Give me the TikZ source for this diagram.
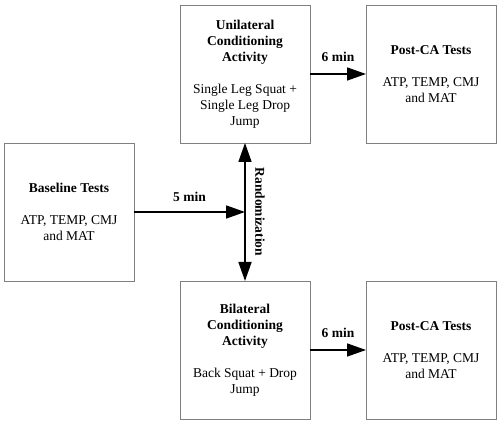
\documentclass[tikz,border=0pt]{standalone}
\usepackage{fontspec}
\setmainfont{Liberation Serif}
\usetikzlibrary{positioning, arrows.meta}

\begin{document}
\begin{tikzpicture}[font=\fontsize{13.5}{16}\selectfont,
	stage/.style={draw=gray, line width=0.9pt, minimum width=130pt, minimum height=138pt,
		align=center, inner sep=2pt, outer sep=0pt},
	flow/.style={line width=1.6pt, -{Triangle[length=19pt,width=13pt]}},
	tag/.style={font=\fontsize{13.5}{16}\selectfont\bfseries}]
	\useasboundingbox (0,0) rectangle (498pt,425pt);
	% stages
	\node[stage] (base) at (69pt,213pt) {\textbf{Baseline Tests}\\[16pt]ATP, TEMP, CMJ\\and MAT};
	\node[stage, above right=0pt and 46pt of base] (uni)
	{\textbf{Unilateral}\\\textbf{Conditioning}\\\textbf{Activity}\\[16pt]Single Leg Squat +\\Single Leg Drop\\Jump};
	\node[stage, below right=0pt and 46pt of base] (bil)
	{\textbf{Bilateral}\\\textbf{Conditioning}\\\textbf{Activity}\\[16pt]Back Squat + Drop\\Jump};
	\node[stage, right=56pt of uni] (postU) {\textbf{Post-CA Tests}\\[16pt]ATP, TEMP, CMJ\\and MAT};
	\node[stage, right=56pt of bil] (postB) {\textbf{Post-CA Tests}\\[16pt]ATP, TEMP, CMJ\\and MAT};
	% connectors
	\coordinate (split) at (base.east -| uni.south);
	\draw[flow, {Triangle[length=19pt,width=13pt]}-{Triangle[length=19pt,width=13pt]}] (uni) -- (bil)
	node[midway, right=6pt, rotate=-90, anchor=south, tag] {Randomization};
	\draw[flow] (base.east) -- (split) node[midway, above=6pt, tag] {5 min};
	\draw[flow] (uni) -- (postU) node[midway, above=8pt, tag] {6 min};
	\draw[flow] (bil) -- (postB) node[midway, above=8pt, tag] {6 min};
\end{tikzpicture}
\end{document}
